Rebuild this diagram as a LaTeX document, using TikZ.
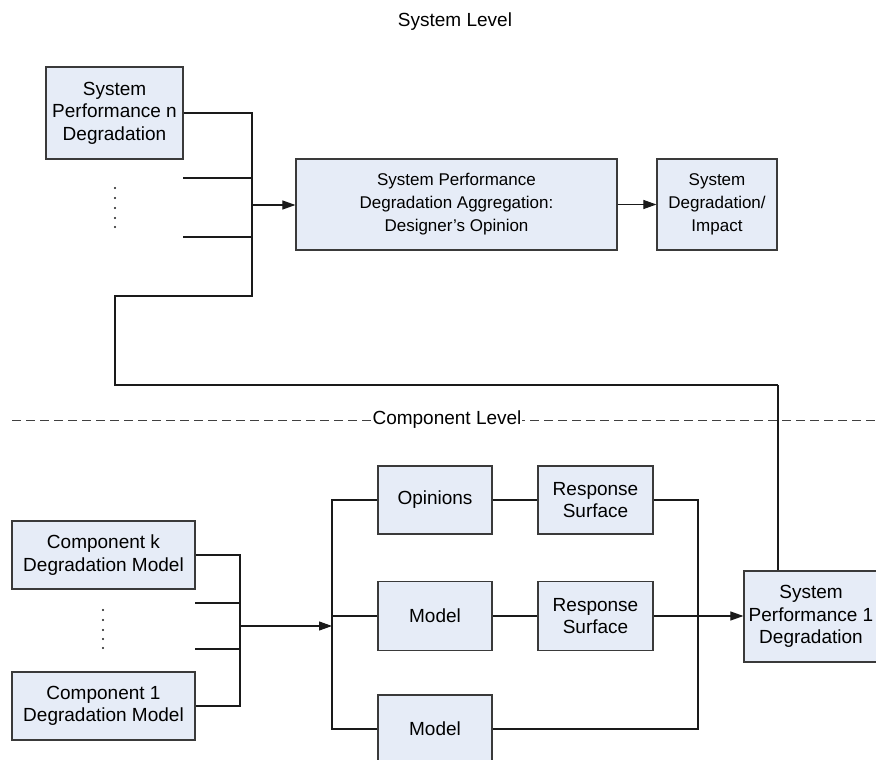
\documentclass[tikz,border=0pt]{standalone}
\usepackage{fontspec}
\setmainfont{Liberation Sans}
\usetikzlibrary{arrows.meta}
\definecolor{boxfill}{HTML}{E6ECF7}
\definecolor{boxline}{HTML}{3A3A3A}
\definecolor{wire}{HTML}{1A1A1A}
\begin{document}
\begin{tikzpicture}[x=1pt,y=-1pt,
  blk/.style={draw=boxline,line width=1.2pt,fill=boxfill,align=center,inner sep=0pt,
    font=\fontsize{19}{22.5}\selectfont},
  blksmall/.style={blk,font=\fontsize{17}{23}\selectfont},
  wireline/.style={draw=wire,line width=1.1pt},
  arr/.style={wireline,-{Triangle[length=13pt,width=9pt]}},
  dotmark/.style={fill=wire,draw=none}]
\useasboundingbox (0,0) rectangle (876,760);
\fill[white] (0,0) rectangle (876,760);

\node[font=\fontsize{19}{22}\selectfont] (title) at (455,22) {System Level};

% top boxes
\node[blk,minimum width=137pt,minimum height=92pt] (spn) at (114.5,113) {System\\Performance n\\Degradation};
\node[blksmall,minimum width=321pt,minimum height=91pt] (agg) at (456.5,204.5) {System Performance\\Degradation Aggregation:\\Designer’s Opinion};
\node[blksmall,minimum width=120pt,minimum height=91pt] (imp) at (717,204.5) {System\\Degradation/\\Impact};

\coordinate (jt) at (252,205);
\coordinate (s1) at (183,178);
\coordinate (s2) at (183,237);
\coordinate (lp1) at (252,296);
\coordinate (lp2) at (115,296);
\coordinate (lp3) at (115,385);
\coordinate (lp4) at (778,385);

\draw[wireline] (spn.east) -- (252,113) -- (lp1) -- (lp2) -- (lp3) -- (lp4);
\draw[wireline] (s1) -- (s1 -| jt);
\draw[wireline] (s2) -- (s2 -| jt);
\draw[arr] (jt) -- (agg.west |- jt);
\draw[arr] (agg.east) -- (imp.west);

\foreach \yy in {188,198,208,218,227} \fill[dotmark] (115,\yy) circle (1.1pt);

% separator
\draw[wireline,draw=black!75,line width=0.9pt,dash pattern=on 9pt off 5pt] (12,420) -- (876,420);
\node[fill=white,inner sep=1pt,font=\fontsize{19}{22}\selectfont] (complevel) at (447,420) {Component Level};

% lower boxes
\node[blk,minimum width=183pt,minimum height=68pt] (ck) at (103.5,555) {Component k\\Degradation Model};
\node[blk,minimum width=183pt,minimum height=68pt] (c1) at (103.5,706) {Component 1\\Degradation Model};
\node[blk,minimum width=114pt,minimum height=68pt] (op) at (435,500) {Opinions};
\node[blk,minimum width=114pt,minimum height=69pt] (m2) at (435,616) {Model};
\node[blk,minimum width=114pt,minimum height=68pt] (m3) at (435,729) {Model};
\node[blk,minimum width=115pt,minimum height=68pt] (rs1) at (595.5,500) {Response\\Surface};
\node[blk,minimum width=115pt,minimum height=69pt] (rs2) at (595.5,616) {Response\\Surface};
\node[blk,minimum width=134pt,minimum height=91pt] (sp1) at (811,616.5) {System\\Performance 1\\Degradation};

\foreach \yy in {610,620,630,639,648} \fill[dotmark] (103,\yy) circle (1.1pt);

\coordinate (jl) at (240,626);
\coordinate (t1) at (195,603);
\coordinate (t2) at (195,649);
\coordinate (jr) at (332,626);
\coordinate (jo) at (698,616);

\draw[wireline] (ck.east) -| (jl) |- (c1.east);
\draw[wireline] (t1) -- (t1 -| jl);
\draw[wireline] (t2) -- (t2 -| jl);
\draw[arr] (jl) -- (jr);
\draw[wireline] (op.west) -| (jr) |- (m3.west);
\draw[wireline] (jr |- m2.west) -- (m2.west);
\draw[wireline] (op.east) -- (rs1.west);
\draw[wireline] (m2.east) -- (rs2.west);
\draw[wireline] (rs1.east) -| (jo) |- (m3.east);
\draw[arr] (rs2.east) -- (sp1.west |- rs2.east);
\draw[wireline] (sp1.north -| lp4) -- (lp4);
\end{tikzpicture}
\end{document}
